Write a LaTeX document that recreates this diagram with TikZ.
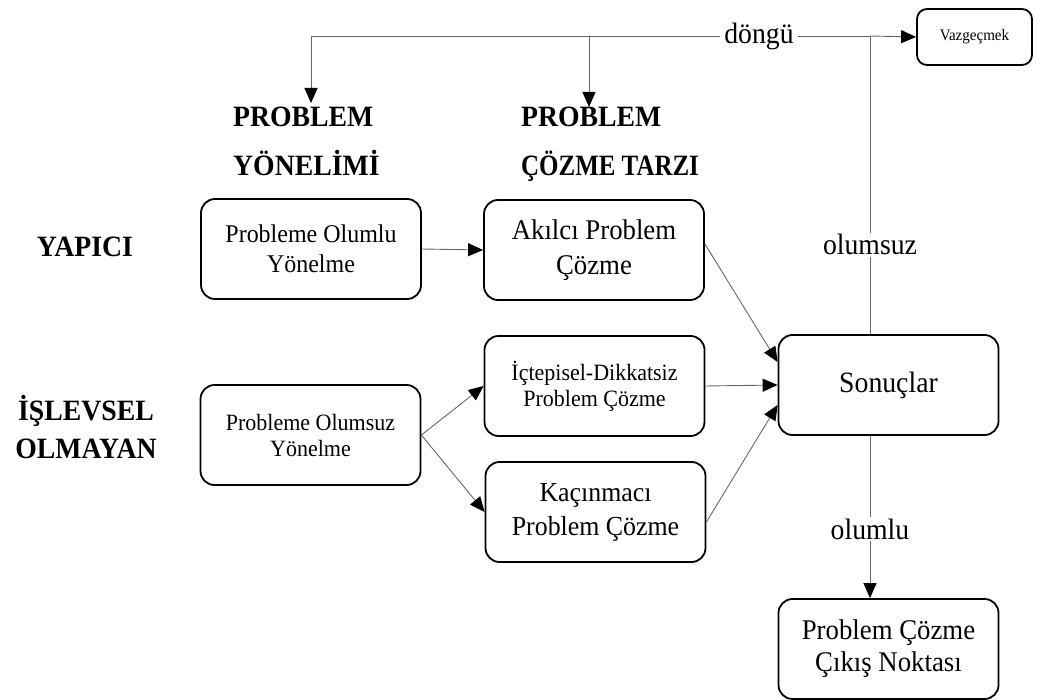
\documentclass[tikz,border=0pt]{standalone}
\usepackage{fontspec}
\setmainfont{Liberation Serif}[FakeStretch=0.94]
\usetikzlibrary{arrows.meta,calc}
\begin{document}
\begin{tikzpicture}[x=1pt,y=-1pt,
  box/.style={draw=black, line width=1.8pt, rounded corners=14pt, align=center,
    minimum width=220pt, minimum height=100pt, inner sep=2pt},
  conn/.style={draw=black!60, line width=0.9pt},
  withtip/.style={-{Triangle[length=15pt,width=13pt,color=black]}},
  lbl/.style={fill=white, inner xsep=4pt, inner ysep=2pt, anchor=base,
    font=\fontsize{29.5}{34}\selectfont},
  head/.style={anchor=base west, inner sep=0pt, font=\fontsize{29.5}{34}\selectfont\bfseries},
  side/.style={anchor=base, inner sep=0pt, font=\fontsize{29.5}{34}\selectfont\bfseries}]
\useasboundingbox (0,0) rectangle (1040,700);

% column headings
\node[head] (h1a) at (233,127) {PROBLEM};
\node[head] (h1b) at (233,176) {YÖNELİMİ};
\node[head] (h2a) at (521,127) {PROBLEM};
\node[head] (h2b) at (521,176) {\scalebox{0.9}[1]{ÇÖZME TARZI}};

% row headings
\node[side] (r1)  at (85,257) {YAPICI};
\node[side] (r2a) at (86,420) {İŞLEVSEL};
\node[side] (r2b) at (86,458) {OLMAYAN};

% boxes
\node[box, font=\fontsize{25.5}{30}\selectfont] (b1) at (311,249) {Probleme Olumlu\\Yönelme};
\node[box, font=\fontsize{28.5}{35}\selectfont] (b2) at (594,250) {Akılcı Problem\\Çözme};
\node[box, font=\fontsize{23.4}{26}\selectfont] (b3) at (310.5,435) {Probleme Olumsuz\\Yönelme};
\node[box, font=\fontsize{23.4}{26}\selectfont] (b4) at (594.5,386) {İçtepisel-Dikkatsiz\\Problem Çözme};
\node[box, font=\fontsize{27.5}{34}\selectfont] (b5) at (595.5,512) {Kaçınmacı\\Problem Çözme};
\node[box, font=\fontsize{29.5}{34}\selectfont] (b6) at (888.5,385) {Sonuçlar};
\node[box, font=\fontsize{28.5}{32}\selectfont] (b7) at (888.5,649) {Problem Çözme\\Çıkış Noktası};
\node[box, minimum width=115pt, minimum height=56pt, rounded corners=10pt,
      font=\fontsize{16}{18}\selectfont] (b8) at (974.5,37) {Vazgeçmek};

% feedback loop points
\coordinate (j)  at (870,36);
\coordinate (c1) at (311,36);
\coordinate (a1) at (311,103);
\coordinate (a2) at (589,107);

% connectors
\draw[conn,withtip] (b1.east) -- (b2.west);
\draw[conn,withtip] (b3.east) -- (b4.west);
\draw[conn,withtip] (b3.east) -- (b5.west);
\draw[conn,withtip] ($(b2.east)+(0,-6)$) -- ($(b6.west)+(0,-23)$);
\draw[conn,withtip] (b4.east) -- (b6.west);
\draw[conn,withtip] ($(b5.east)+(0,10)$) -- ($(b6.west)+(0,20)$);
\draw[conn] (j |- b6.north) -- (j);
\draw[conn,withtip] (j) -- (c1) -- (a1);
\draw[conn,withtip] (a2 |- j) -- (a2);
\draw[conn,withtip] (j) -- (b8.west);
\draw[conn,withtip] (j |- b6.south) -- (j |- b7.north);

% connector labels
\node[lbl] (l1) at (759,44) {döngü};
\node[lbl] (l2) at (870,255) {olumsuz};
\node[lbl] (l3) at (870,539) {olumlu};
\end{tikzpicture}
\end{document}
